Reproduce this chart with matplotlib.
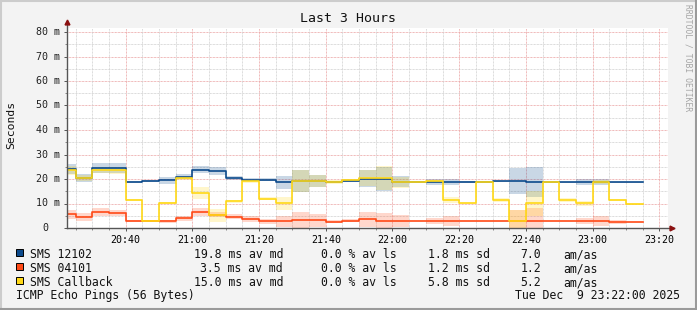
import matplotlib
matplotlib.use("Agg")
import matplotlib.pyplot as plt
import matplotlib.transforms as mtrans
from matplotlib.patches import Rectangle
from matplotlib.lines import Line2D
import numpy as np

plt.rcParams['font.family'] = ['DejaVu Sans Mono']

W, H = 697, 310

# 5 minute steps (first one is partial), last entry = end of last step
edges = ["20:22", "20:25", "20:30", "20:35", "20:40", "20:45", "20:50", "20:55",
         "21:00", "21:05", "21:10", "21:15", "21:20", "21:25", "21:30", "21:35",
         "21:40", "21:45", "21:50", "21:55", "22:00", "22:05", "22:10", "22:15",
         "22:20", "22:25", "22:30", "22:35", "22:40", "22:45", "22:50", "22:55",
         "23:00", "23:05", "23:10", "23:15"]

# median rtt (ms) and stddev band width (ms) per step
sms12102_med = [24.2, 20.4, 24.5, 24.5, 18.75, 19.2, 19.4, 21.0, 23.8, 23.2, 20.4, 19.7,
                19.7, 18.75, 19.2, 19.2, 18.75, 19.3, 20.2, 20.0, 18.9, 18.75, 18.75, 18.75,
                18.75, 18.75, 19.0, 19.0, 18.75, 18.75, 18.75, 18.75, 18.75, 18.75, 18.75]
sms12102_sd = [4.1, 3.5, 3.7, 3.8, 0.7, 0.8, 2.7, 2.0, 2.9, 3.2, 1.5, 1.4,
               1.4, 5.3, 9.3, 5.1, 1.0, 1.0, 7.2, 10.1, 4.7, 1.1, 2.1, 2.4,
               0.5, 0.5, 0.5, 10.6, 11.9, 0.4, 0.4, 2.3, 2.3, 0.4, 0.4]

sms04101_med = [5.7, 4.5, 6.5, 6.1, 2.85, 2.7, 2.7, 3.9, 6.5, 5.4, 4.6, 3.7,
                2.7, 2.7, 3.1, 3.1, 2.6, 3.0, 3.5, 2.85, 2.85, 2.85, 2.85, 2.85,
                2.85, 2.85, 2.85, 2.85, 2.85, 2.85, 2.85, 2.85, 2.85, 2.45, 2.45]
sms04101_sd = [3.7, 3.5, 3.0, 2.2, 0.5, 0.5, 1.2, 2.4, 3.6, 2.2, 2.1, 2.3,
               1.9, 4.7, 6.6, 5.1, 1.3, 1.3, 6.0, 6.8, 4.7, 0.3, 2.7, 3.7,
               0.3, 0.3, 0.3, 8.8, 10.7, 0.3, 0.3, 2.6, 3.8, 1.8, 0.3]

callback_med = [23.5, 20.4, 23.6, 23.5, 11.4, 2.7, 10.05, 20.4, 14.3, 5.3, 10.9, 19.0,
                12.0, 10.05, 19.2, 19.2, 18.9, 19.6, 20.4, 20.4, 18.75, 18.75, 19.0, 11.4,
                10.05, 18.75, 11.4, 2.7, 10.05, 18.75, 11.4, 10.05, 18.75, 11.4, 9.8]
callback_sd = [3.4, 2.7, 2.7, 3.2, 1.0, 0.9, 0.8, 2.0, 4.6, 5.3, 1.0, 1.3,
               1.1, 5.0, 9.3, 5.1, 1.6, 1.1, 6.6, 9.5, 4.5, 0.9, 1.5, 2.2,
               0.5, 0.5, 1.3, 9.0, 10.3, 0.4, 1.5, 2.2, 1.4, 0.5, 0.5]

names = ["SMS 12102", "SMS 04101", "SMS Callback"]
colors = ["#0c4a8c", "#ff4a17", "#ffd816"]
av_md = ["19.8 ms av md", "3.5 ms av md", "15.0 ms av md"]
av_ls = ["0.0 % av ls", "0.0 % av ls", "0.0 % av ls"]
sd_txt = ["1.8 ms sd", "1.2 ms sd", "5.8 ms sd"]
am_as = ["7.0", "1.2", "5.2"]

xtick_labels = ["20:40", "21:00", "21:20", "21:40", "22:00", "22:20", "22:40", "23:00", "23:20"]
ytick_vals = [0, 10, 20, 30, 40, 50, 60, 70, 80]
ytick_labels = ["0", "10 m", "20 m", "30 m", "40 m", "50 m", "60 m", "70 m", "80 m"]


def tmin(s):
    h, m = s.split(":")
    return (int(h) - 20) * 60 + int(m)


x = np.array([tmin(t) for t in edges], float)

fig = plt.figure(figsize=(W / 100, H / 100), dpi=100)
fig.patch.set_facecolor("#f3f3f3")

ax = fig.add_axes([67 / W, 1 - 228 / H, 601 / W, 200 / H])
ax.set_facecolor("white")
ax.set_xlim(22.4, 22.4 + 601 / 3.335)
ax.set_ylim(0, 200 / 2.45)

# grid
dot = (0, (0.72, 0.72))
for v in range(5, 85, 5):
    c = "#eba3a3" if v % 10 == 0 else "#d0d0d0"
    ax.axhline(v, color=c, lw=0.72, ls=dot, zorder=0)
for t in range(25, 205, 5):
    c = "#eba3a3" if t % 20 == 0 else "#d0d0d0"
    ax.axvline(t, color=c, lw=0.72, ls=dot, zorder=0)

series = [(sms12102_med, sms12102_sd), (sms04101_med, sms04101_sd), (callback_med, callback_sd)]

# stddev bands
for (med, sd), col in zip(series, colors):
    med = np.array(med)
    sd = np.array(sd)
    lo = np.clip(med - sd / 2, 0, None)
    hi = med + sd / 2
    ax.fill_between(x, np.append(lo, lo[-1]), np.append(hi, hi[-1]), step="post",
                    color=col, alpha=0.22, lw=0, zorder=1)

# median lines
for (med, sd), col in zip(series, colors):
    med = np.array(med)
    ax.step(x, np.append(med, med[-1]), where="post", color=col, lw=1.2, zorder=3)

for s in ax.spines.values():
    s.set_visible(False)

# axes with arrows
ax.plot([0, 0], [0, 1.03], transform=ax.transAxes, color="#555555", lw=1, clip_on=False, zorder=4)
ax.plot([0, 1.01], [0, 0], transform=ax.transAxes, color="#555555", lw=1, clip_on=False, zorder=4)
ax.plot([0], [1.03], transform=ax.transAxes, marker="^", ms=3.5, color="#8b1010", clip_on=False, zorder=5)
ax.plot([1.007], [0], transform=ax.transAxes, marker=">", ms=3.5, color="#8b1010", clip_on=False, zorder=5)

ax.set_xticks([tmin(t) for t in xtick_labels])
ax.set_xticklabels(xtick_labels, fontsize=7.2)
ax.set_xticks(range(25, 205, 5), minor=True)
ax.set_yticks(range(0, 85, 10))
ax.set_yticks(range(5, 85, 10), minor=True)
ax.set_yticklabels([])
ax.tick_params(which="major", length=2.2, width=0.7, color="#555555", pad=2.5)
ax.tick_params(which="minor", length=1.5, width=0.7, color="#888888")

ylab_tr = ax.get_yaxis_transform()
for v, lab in zip(ytick_vals, ytick_labels):
    off = -19 if lab == "0" else -7.5
    tr = mtrans.offset_copy(ylab_tr, fig=fig, x=off, y=0, units="dots")
    ax.text(0, v, lab, transform=tr, ha="right", va="center", fontsize=7.2, color="#222222")

fig.text(347.5 / W, 1 - 19 / H, "Last 3 Hours", ha="center", va="center", fontsize=9.5, color="#111111")
fig.text(11 / W, 1 - 125 / H, "Seconds", rotation=90, ha="center", va="center", fontsize=8.2, color="#111111")
fig.text(688 / W, 1 - 4 / H, "RRDTOOL / TOBI OETIKER", rotation=270, ha="center", va="top",
         fontsize=5.8, color="#a5a5a5")

# legend
fs = 8.3
for i in range(3):
    yb = 258 + 14 * i
    fig.add_artist(Rectangle((15.5 / W, 1 - (yb - 2) / H), 7 / W, 7 / H, transform=fig.transFigure,
                             facecolor=colors[i], edgecolor="black", lw=0.7))
    fig.text(30 / W, 1 - yb / H, names[i], ha="left", va="baseline", fontsize=fs, color="#111111")
    fig.text(283 / W, 1 - yb / H, av_md[i], ha="right", va="baseline", fontsize=fs, color="#111111")
    fig.text(397 / W, 1 - yb / H, av_ls[i], ha="right", va="baseline", fontsize=fs, color="#111111")
    fig.text(490 / W, 1 - yb / H, sd_txt[i], ha="right", va="baseline", fontsize=fs, color="#111111")
    fig.text(541 / W, 1 - yb / H, am_as[i], ha="right", va="baseline", fontsize=fs, color="#111111")
    fig.text(563 / W, 1 - yb / H, "am/as", ha="left", va="baseline", fontsize=fs, color="#111111")

fig.text(16 / W, 1 - 299 / H, "ICMP Echo Pings (56 Bytes)", ha="left", va="baseline", fontsize=fs, color="#111111")
fig.text(680 / W, 1 - 299 / H, "Tue Dec  9 23:22:00 2025", ha="right", va="baseline", fontsize=fs, color="#111111")

# frame
fig.add_artist(Line2D([0, 1], [1 - 1 / H, 1 - 1 / H], transform=fig.transFigure, color="#cccccc", lw=1.5))
fig.add_artist(Line2D([1 / W, 1 / W], [0, 1], transform=fig.transFigure, color="#cccccc", lw=1.5))
fig.add_artist(Line2D([0, 1], [1 / H, 1 / H], transform=fig.transFigure, color="#9a9a9a", lw=1.5))
fig.add_artist(Line2D([1 - 1 / W, 1 - 1 / W], [0, 1], transform=fig.transFigure, color="#9a9a9a", lw=1.5))

fig.savefig("out.png", dpi=100, facecolor=fig.get_facecolor())
